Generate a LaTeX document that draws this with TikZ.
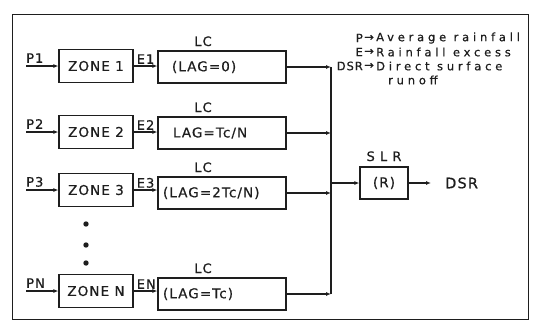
\documentclass[tikz,border=0pt]{standalone}
\usepackage{fontspec}
\setmainfont{DejaVu Sans}
\newfontfamily\lett[LetterSpace=8,FakeBold=0.6]{DejaVu Sans}
\newfontfamily\legf[LetterSpace=33,FakeBold=0.6]{DejaVu Sans}
\usetikzlibrary{arrows.meta}
\definecolor{ink}{HTML}{1E1E1E}
\begin{document}
\begin{tikzpicture}[x=1pt,y=-1pt,
  blk/.style={draw=ink, line width=1.2pt, inner sep=0pt, text=ink,
    font=\lett\fontsize{13.5}{15}\selectfont},
  zonebox/.style={blk, minimum width=74pt, minimum height=33pt},
  lcbox/.style={blk, inner xsep=4pt, text width=120pt, align=left, minimum height=32pt},
  lbl/.style={inner sep=0pt, text=ink, font=\lett\fontsize{13}{15}\selectfont},
  leg/.style={inner sep=0pt, text=ink, font=\legf\fontsize{11.5}{13}\selectfont},
  legkey/.style={inner sep=0pt, text=ink, font=\lett\fontsize{11.5}{13}\selectfont},
  arr/.style={draw=ink, line width=1.1pt, -{Latex[length=5pt,width=4pt]}},
  wire/.style={draw=ink, line width=1.2pt}]
\useasboundingbox (0,0) rectangle (533,325);
\fill[white] (0,0) rectangle (533,325);
% frame
\draw[wire, line width=1pt] (12,14) rectangle (528,319);

% zones
\node[zonebox] (z1) at (96,66) {ZONE 1};
\node[zonebox] (z2) at (96,132) {ZONE 2};
\node[zonebox] (z3) at (96,190) {ZONE 3};
\node[zonebox] (zn) at (96,291) {ZONE N};

% lag channels
\node[lcbox] (l1) at (222,67) {\hspace*{10pt}(LAG=0)};
\node[lcbox] (l2) at (222,133) {\hspace*{11pt}LAG=Tc/N};
\node[lcbox] (l3) at (222,193) {\hspace*{1pt}(LAG=2Tc/N)};
\node[lcbox] (ln) at (222,294) {\hspace*{1pt}(LAG=Tc)};

\foreach \b in {l1,l2,l3,ln}
  \node[lbl, anchor=south] at ([xshift=-19pt,yshift=4pt]\b.north) {LC};

% inputs
\coordinate (i1) at (26,66);
\coordinate (i2) at (26,132);
\coordinate (i3) at (26,190);
\coordinate (in) at (26,291);
\node[lbl, anchor=south west] at ([yshift=3pt]i1) {P1};
\node[lbl, anchor=south west] at ([yshift=3pt]i2) {P2};
\node[lbl, anchor=south west] at ([yshift=3pt]i3) {P3};
\node[lbl, anchor=south west] at ([yshift=3pt]in) {PN};
\draw[arr] (i1) -- (z1.west);
\draw[arr] (i2) -- (z2.west);
\draw[arr] (i3) -- (z3.west);
\draw[arr] (in) -- (zn.west);

% excess
\draw[arr] (z1.east) -- (l1.west |- z1.east);
\draw[arr] (z2.east) -- (l2.west |- z2.east);
\draw[arr] (z3.east) -- (l3.west |- z3.east);
\draw[arr] (zn.east) -- (ln.west |- zn.east);
\node[lbl, anchor=south west] at ([xshift=3pt,yshift=2pt]z1.east) {E1};
\node[lbl, anchor=south west] at ([xshift=3pt,yshift=2pt]z2.east) {E2};
\node[lbl, anchor=south west] at ([xshift=3pt,yshift=2pt]z3.east) {E3};
\node[lbl, anchor=south west] at ([xshift=3pt,yshift=2pt]zn.east) {EN};

% dots
\fill[ink] (86,224) circle (2.7);
\fill[ink] (86,245) circle (2.7);
\fill[ink] (86,263) circle (2.7);

% bus
\coordinate (bt) at (331,67);
\coordinate (bb) at (331,294);
\coordinate (bj) at (331,183);
\draw[wire] (bt) -- (bb);
\draw[arr] (l1.east) -- (l1.east -| bt);
\draw[arr] (l2.east) -- (l2.east -| bt);
\draw[arr] (l3.east) -- (l3.east -| bt);
\draw[arr] (ln.east) -- (ln.east -| bt);

% SLR
\node[blk, minimum width=48pt, minimum height=32pt] (slr) at (384,183) {(R)};
\node[lbl, anchor=south] at ([yshift=5pt]slr.north) {S L R};
\draw[arr] (bj) -- (slr.west);
\node[lbl, anchor=west, font=\lett\fontsize{14.5}{16}\selectfont] (dsr) at (445,183) {DSR};
\draw[arr] (slr.east) -- (dsr.west) [shorten >=14pt];

% legend
\node[legkey, anchor=east] (k1) at (363,38) {P};
\node[legkey, anchor=east] (k2) at (363,52) {E};
\node[legkey, anchor=east] (k3) at (363,66) {DSR};
\foreach \yy/\tx in {38/Average rainfall, 52/Rainfall excess, 66/Direct surface}{
  \node[leg] at (369,\yy) {→};
  \node[leg, anchor=west] at (376,\yy) {\tx};
}
\node[leg, anchor=west] at (388,80) {runoff};
\end{tikzpicture}
\end{document}
